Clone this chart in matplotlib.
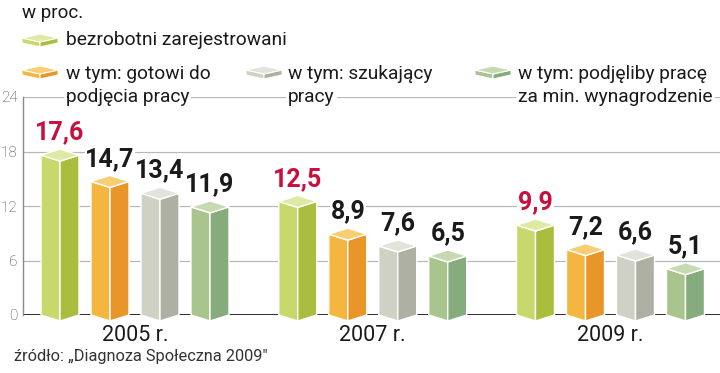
import matplotlib
matplotlib.use("Agg")
import matplotlib.pyplot as plt
from matplotlib.patches import Polygon
from matplotlib import font_manager

# ---------------- data ----------------
groups = ["2005 r.", "2007 r.", "2009 r."]
series = ["bezrobotni zarejestrowani",
          "w tym: gotowi do\npodjęcia pracy",
          "w tym: szukający\npracy",
          "w tym: podjęliby pracę\nza min. wynagrodzenie"]
v_bezrobotni = [17.6, 12.5, 9.9]
v_gotowi = [14.7, 8.9, 7.2]
v_szukajacy = [13.4, 7.6, 6.6]
v_podjeliby = [11.9, 6.5, 5.1]
values = [v_bezrobotni, v_gotowi, v_szukajacy, v_podjeliby]
value_labels = [["17,6", "12,5", "9,9"],
                ["14,7", "8,9", "7,2"],
                ["13,4", "7,6", "6,6"],
                ["11,9", "6,5", "5,1"]]
yticks = [0, 6, 12, 18, 24]
title_text = "w proc."
source_text = "źródło: „Diagnoza Społeczna 2009\""

# ---------------- style ----------------
available = {f.name for f in font_manager.fontManager.ttflist}
def pick(*names):
    fam = [n for n in names if n in available]
    return fam + ["DejaVu Sans"]
FONT = pick("Roboto", "Open Sans")
plt.rcParams["font.family"] = FONT

# (left face, right face, top face)
colors = [("#c9d86c", "#abbd3e", "#e0e9a4"),
          ("#f5b541", "#e8952a", "#f9cd72"),
          ("#cfd1c5", "#adb0a2", "#e2e3da"),
          ("#a9c58d", "#86ab7c", "#c6dab2")]
label_colors = ["#c8103f", "#1a1a1a", "#1a1a1a", "#1a1a1a"]
text_color = "#1a1a1a"

W, H = 720, 373
fig = plt.figure(figsize=(W / 100, H / 100), dpi=100)
fig.patch.set_facecolor("white")

ax = fig.add_axes([23 / W, 58 / H, 697 / W, 218 / H])
ax.set_ylim(0, 24)
group_step = 4.755
offsets = [-1.5, -0.5, 0.5, 1.5]
half_w = 0.38
dy = 0.66
ax.set_xlim(-2.24, 11.7)

for s in ["top", "right", "bottom"]:
    ax.spines[s].set_visible(False)
ax.spines["left"].set_color("#8a8a8a")
ax.spines["left"].set_linewidth(1.0)
ax.set_xticks([])
ax.set_yticks(yticks)
ax.set_yticklabels([str(t) for t in yticks])
ax.tick_params(axis="y", length=0, pad=4, labelsize=11, labelcolor="#444444")
for t in ax.get_yticklabels():
    t.set_fontweight("light")
ax.yaxis.grid(True, color="#b8b8b8", linewidth=0.9, zorder=0)
ax.set_axisbelow(True)
ax.axhline(0, color="#1a1a1a", linewidth=2.0, zorder=1)

def prism(ax, x, v, cols, zorder=3):
    lf, rf, tf = cols
    left = [(x - half_w, 0), (x, -dy), (x, v - dy), (x - half_w, v)]
    right = [(x, -dy), (x + half_w, 0), (x + half_w, v), (x, v - dy)]
    top = [(x - half_w, v), (x, v - dy), (x + half_w, v), (x, v + dy)]
    for pts, c in ((left, lf), (right, rf), (top, tf)):
        ax.add_patch(Polygon(pts, closed=True, facecolor=c, edgecolor="white",
                             linewidth=1.0, zorder=zorder, clip_on=False,
                             joinstyle="miter"))

for gi, g in enumerate(groups):
    gc = gi * group_step
    for si in range(len(series)):
        x = gc + offsets[si]
        v = values[si][gi]
        prism(ax, x, v, colors[si])
        ax.annotate(value_labels[si][gi], xy=(x, v + dy), xytext=(0, 7),
                    textcoords="offset points", ha="center", va="baseline",
                    fontsize=18, fontweight="bold", color=label_colors[si],
                    zorder=5,
                    bbox=dict(facecolor="white", edgecolor="none", pad=0.5))
    ax.annotate(g, xy=(gc, 0), xytext=(0, -7.5), textcoords="offset points",
                ha="center", va="top", fontsize=15.5, color=text_color,
                annotation_clip=False)

# ---------------- legend / header (pixel overlay) ----------------
lax = fig.add_axes([0, 0, 1, 1], zorder=5)
lax.set_xlim(0, W)
lax.set_ylim(H, 0)
lax.axis("off")
lax.patch.set_alpha(0)

def icon(x0, y0, cols):
    lf, rf, tf = cols
    w = 36
    c = x0 + w / 2
    top = [(x0, y0 + 4), (c, y0), (x0 + w, y0 + 4), (c, y0 + 8)]
    left = [(x0, y0 + 4), (c, y0 + 8), (c, y0 + 13), (x0, y0 + 9)]
    right = [(c, y0 + 8), (x0 + w, y0 + 4), (x0 + w, y0 + 9), (c, y0 + 13)]
    for pts, col in ((left, lf), (right, rf), (top, tf)):
        lax.add_patch(Polygon(pts, closed=True, facecolor=col, edgecolor="white",
                              linewidth=0.8))

lax.text(22, 13, title_text, fontsize=13.5, color=text_color, va="center", ha="left")

legend_pos = [(22, 34, 66, 40), (22, 66, 66, 74), (246, 66, 288, 74), (475, 66, 518, 74)]
for si, (ix, iy, tx, ty) in enumerate(legend_pos):
    icon(ix, iy, colors[si])
    lines = series[si].split("\n")
    for li, line in enumerate(lines):
        lax.text(tx, ty + li * 23, line, fontsize=13.8, color=text_color,
                 va="center", ha="left",
                 bbox=dict(facecolor="white", edgecolor="none", pad=1.5))

lax.text(14, 356, source_text, fontsize=11.8, color="#333333", va="center", ha="left")

fig.savefig("out.png", dpi=100, facecolor="white")
